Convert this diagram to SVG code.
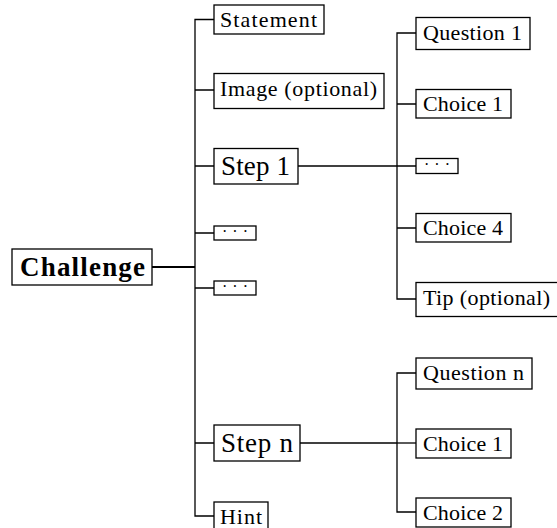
<svg xmlns="http://www.w3.org/2000/svg" width="557" height="528" viewBox="0 0 557 528">
<style>
  .box { fill: #fff; stroke: #000; stroke-width: 1.3; }
  .t { font-family: "Liberation Serif", "DejaVu Serif", serif; font-size: 22px; fill: #000; }
  .big { font-size: 27px; }
  .bold { font-weight: bold; }
  .dots { font-family: "Liberation Serif", serif; font-size: 16px; fill: #000; }
  .ln { fill: none; stroke: #000; stroke-width: 1.3; }
  .thick { stroke-width: 2.2; }
</style>
<rect width="557" height="528" fill="#fff"/>
<g id="connectors">
  <path class="ln thick" d="M152 267 H195"/>
  <path class="ln" d="M214 19.5 H195 V516 H214"/>
  <path class="ln" d="M195 90 H214 M195 166 H214 M195 233 H214 M195 288 H214 M195 443 H214"/>
  <path class="ln" d="M298 166 H397"/>
  <path class="ln" d="M416 33 H397 V299 H416"/>
  <path class="ln" d="M397 104 H416 M397 166 H416 M397 228 H416"/>
  <path class="ln" d="M300 443 H397"/>
  <path class="ln" d="M416 373 H397 V512 H416"/>
  <path class="ln" d="M397 443 H416"/>
</g>
<g id="challenge">
  <rect class="box" x="12" y="249" width="140" height="36"/>
  <text class="t big bold" x="20" y="275.5" textLength="125" lengthAdjust="spacing">Challenge</text>
</g>
<g id="statement">
  <rect class="box" x="214" y="5" width="110" height="29"/>
  <text class="t" x="220" y="27" textLength="97" lengthAdjust="spacing">Statement</text>
</g>
<g id="image">
  <rect class="box" x="214" y="73.5" width="170" height="35"/>
  <text class="t" x="220" y="96" textLength="157" lengthAdjust="spacing">Image (optional)</text>
</g>
<g id="step1">
  <rect class="box" x="214" y="148.5" width="84" height="35.5"/>
  <text class="t big" x="221" y="174.5" textLength="69" lengthAdjust="spacing">Step 1</text>
</g>
<g id="dots1">
  <rect class="box" x="214" y="226" width="42" height="14"/>
  <text class="dots" x="222" y="237" textLength="26" lengthAdjust="spacing">· · ·</text>
</g>
<g id="dots2">
  <rect class="box" x="214" y="281" width="42" height="14"/>
  <text class="dots" x="222" y="292" textLength="26" lengthAdjust="spacing">· · ·</text>
</g>
<g id="stepn">
  <rect class="box" x="214" y="425" width="86" height="36"/>
  <text class="t big" x="221" y="451.5" textLength="72" lengthAdjust="spacing">Step n</text>
</g>
<g id="hint">
  <rect class="box" x="214" y="502" width="54" height="30"/>
  <text class="t" x="220" y="524" textLength="42" lengthAdjust="spacing">Hint</text>
</g>
<g id="question1">
  <rect class="box" x="416" y="17.5" width="114" height="32"/>
  <text class="t" x="423" y="40" textLength="99" lengthAdjust="spacing">Question 1</text>
</g>
<g id="choice1a">
  <rect class="box" x="416" y="89.5" width="95" height="28.5"/>
  <text class="t" x="423" y="111" textLength="80" lengthAdjust="spacing">Choice 1</text>
</g>
<g id="dots3">
  <rect class="box" x="416" y="158.5" width="42" height="15"/>
  <text class="dots" x="424" y="170" textLength="26" lengthAdjust="spacing">· · ·</text>
</g>
<g id="choice4">
  <rect class="box" x="416" y="213.5" width="95" height="28.5"/>
  <text class="t" x="423" y="235" textLength="80" lengthAdjust="spacing">Choice 4</text>
</g>
<g id="tip">
  <rect class="box" x="416" y="282.5" width="142" height="34"/>
  <text class="t" x="423" y="305" textLength="127" lengthAdjust="spacing">Tip (optional)</text>
</g>
<g id="questionn">
  <rect class="box" x="416" y="358" width="116" height="31"/>
  <text class="t" x="423" y="380" textLength="101" lengthAdjust="spacing">Question n</text>
</g>
<g id="choice1b">
  <rect class="box" x="416" y="429" width="95" height="29"/>
  <text class="t" x="423" y="451" textLength="80" lengthAdjust="spacing">Choice 1</text>
</g>
<g id="choice2">
  <rect class="box" x="416" y="498" width="95" height="29"/>
  <text class="t" x="423" y="520" textLength="80" lengthAdjust="spacing">Choice 2</text>
</g>
</svg>
